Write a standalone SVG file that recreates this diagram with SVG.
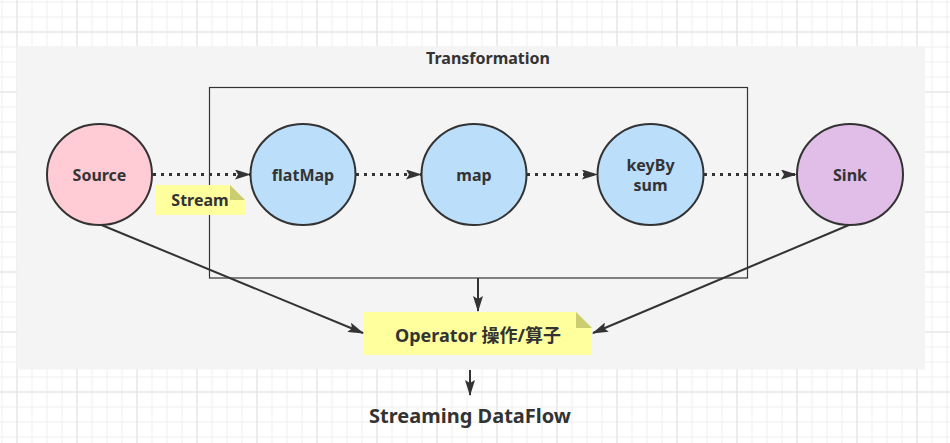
<svg xmlns="http://www.w3.org/2000/svg" width="950" height="443" viewBox="0 0 950 443">
<defs>
<pattern id="minor" x="1.5" y="1.5" width="15" height="15" patternUnits="userSpaceOnUse">
<path d="M0 0.5H15M0.5 0V15" fill="none" stroke="#efefef" stroke-width="1"/>
</pattern>
<pattern id="major" x="16.5" y="31.5" width="60" height="60" patternUnits="userSpaceOnUse">
<path d="M0 0.5H60M0.5 0V60" fill="none" stroke="#e2e2e2" stroke-width="1"/>
</pattern>
<marker id="arr" viewBox="0 0 16 10" refX="15" refY="5" markerWidth="16" markerHeight="10" markerUnits="userSpaceOnUse" orient="auto">
<path d="M0 0L16 5L0 10L3 5Z" fill="#333"/>
</marker>
</defs>
<style>
text{font-family:"Noto Sans","Open Sans","Noto Sans CJK SC",sans-serif;font-weight:bold;fill:#333;text-anchor:middle}
.node{stroke:#333;stroke-width:2}
.dot{fill:none;stroke:#333;stroke-width:3;stroke-dasharray:3 5}
.line{fill:none;stroke:#333;stroke-width:2}
.note{fill:#ffff9e}
.fold{fill:#cccc70}
</style>
<rect width="950" height="443" fill="#ffffff"/>
<rect width="950" height="443" fill="url(#minor)"/>
<rect width="950" height="443" fill="url(#major)"/>
<rect x="16.5" y="46.5" width="908.5" height="323" fill="#f4f4f4"/>
<g id="transformation">
<rect x="209.5" y="87.5" width="538" height="190.5" fill="none" stroke="#333" stroke-width="1.2"/>
<text x="488" y="64" font-size="16">Transformation</text>
</g>
<g id="connectors">
<path class="dot" d="M153 174.5H250" marker-end="url(#arr)"/>
<path class="dot" d="M356 174.5H421" marker-end="url(#arr)"/>
<path class="dot" d="M527 174.5H597" marker-end="url(#arr)"/>
<path class="dot" d="M704 174.5H796" marker-end="url(#arr)"/>
<path class="line" d="M478 278V311" marker-end="url(#arr)"/>
<path class="line" d="M101.5 225L363 333" marker-end="url(#arr)"/>
<path class="line" d="M849 225L593 333" marker-end="url(#arr)"/>
<path class="line" d="M470 370V395" marker-end="url(#arr)"/>
</g>
<g id="source">
<ellipse class="node" cx="99.5" cy="174.5" rx="52.5" ry="50.5" fill="#ffccd5"/>
<text x="99.5" y="180.5" font-size="16">Source</text>
</g>
<g id="stream">
<path class="note" d="M156 185H230L245 200V215H156Z"/>
<path class="fold" d="M230 185L245 200H230Z"/>
<text x="200" y="206" font-size="16">Stream</text>
</g>
<g id="flatmap">
<ellipse class="node" cx="303" cy="174.5" rx="52.5" ry="50.5" fill="#bbdefb"/>
<text x="303" y="180.5" font-size="16">flatMap</text>
</g>
<g id="map">
<ellipse class="node" cx="474" cy="174.5" rx="52.5" ry="50.5" fill="#bbdefb"/>
<text x="474" y="180.5" font-size="16">map</text>
</g>
<g id="keyby">
<ellipse class="node" cx="650.5" cy="174.5" rx="53" ry="50.5" fill="#bbdefb"/>
<text x="650.5" y="171" font-size="16">keyBy</text>
<text x="650.5" y="191" font-size="16">sum</text>
</g>
<g id="sink">
<ellipse class="node" cx="850" cy="174.5" rx="53" ry="50.5" fill="#e1bee7"/>
<text x="850" y="180.5" font-size="16">Sink</text>
</g>
<g id="operator">
<path class="note" d="M364 312H576L592 328V355H364Z"/>
<path class="fold" d="M576 312L592 328H576Z"/>
<text x="478" y="342" font-size="18">Operator 操作/算子</text>
</g>
<g id="dataflow">
<text x="470" y="423" font-size="20">Streaming DataFlow</text>
</g>
</svg>
